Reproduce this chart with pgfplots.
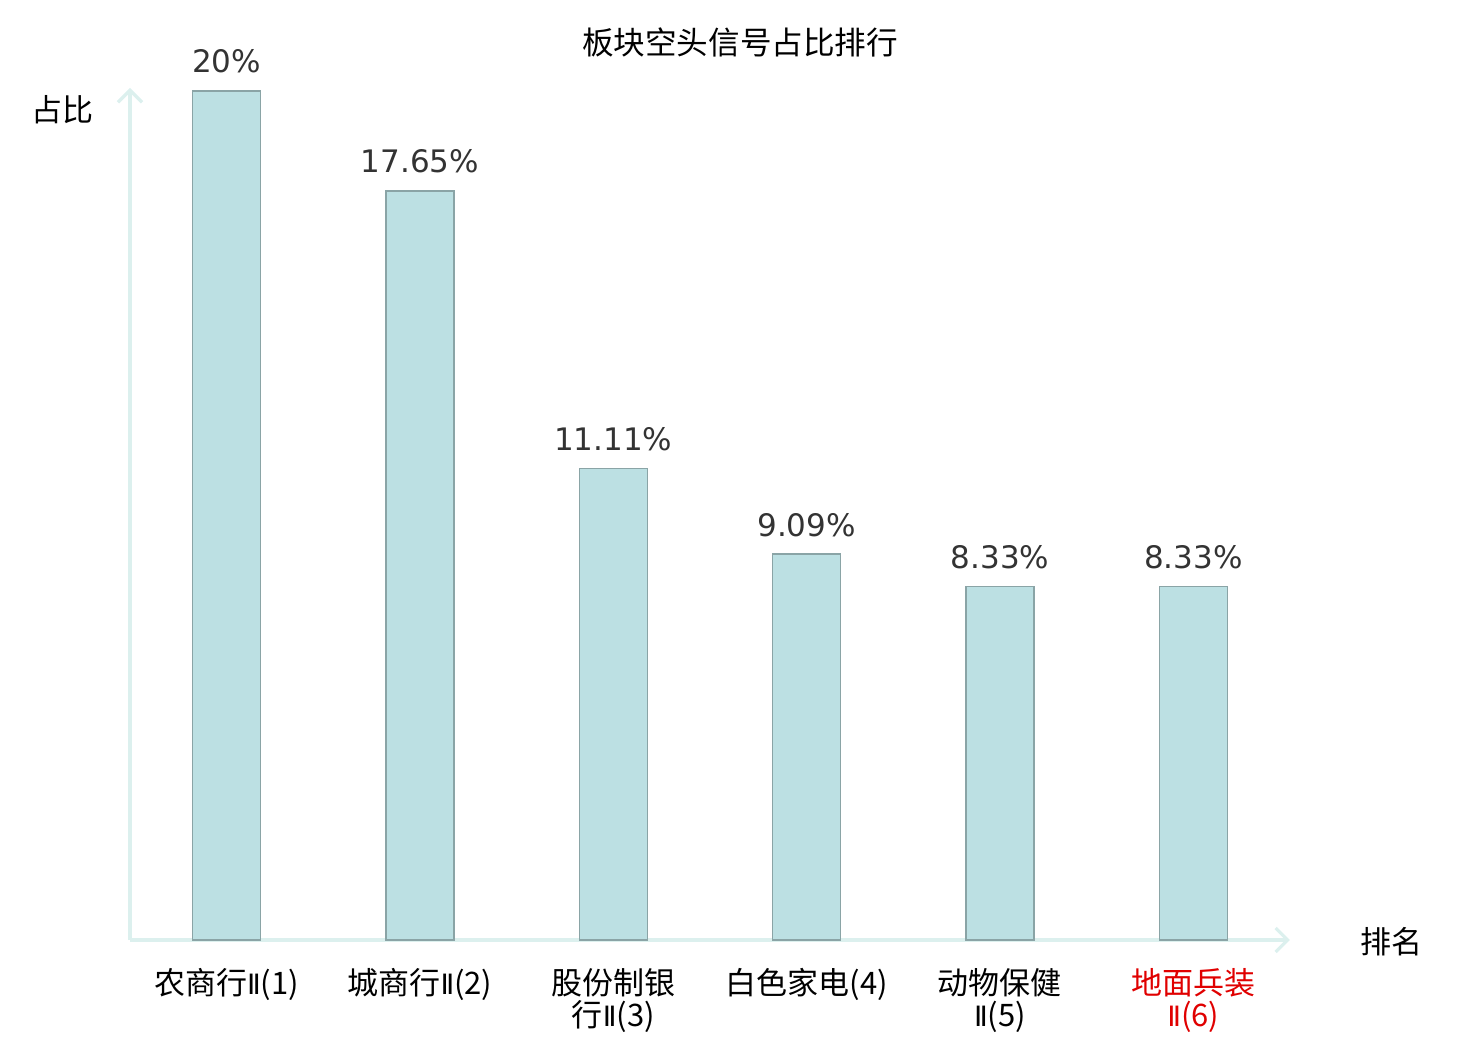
\documentclass[border=0pt]{standalone}
\usepackage{pgfplots}
\pgfplotsset{compat=1.18}
\usepackage{fontspec}
\setmainfont{DejaVu Sans}
\newfontfamily\cjk{Noto Sans CJK SC}
\newfontfamily\dv{DejaVu Sans}
\usetikzlibrary{arrows.meta}
\definecolor{barfill}{HTML}{BCE0E3}
\definecolor{barline}{HTML}{8AA4A6}
\definecolor{axiscol}{HTML}{DCF0EE}
\definecolor{labred}{HTML}{E00000}
\definecolor{valcol}{HTML}{333333}
\newcommand{\rn}{{\dv\fontsize{14}{16}\selectfont Ⅱ}}
\begin{document}
\begin{tikzpicture}
\path[use as bounding box] (-65pt,-50pt) rectangle (675pt,470pt);
\begin{axis}[
  at={(0pt,0pt)}, anchor=south west,
  scale only axis, width=580pt, height=426pt,
  xmin=-0.5, xmax=5.5, ymin=0, ymax=20.07,
  enlargelimits=false, clip=false,
  axis lines=left,
  axis line style={draw=axiscol, line width=1.6pt, -{Straight Barb[length=6pt,width=12pt,line width=1.6pt]}},
  ytick=\empty,
  xtick={0,1,2,3,4,5},
  major tick length=0pt,
  xticklabels={{农商行\rn(1)},{城商行\rn(2)},{股份制银\\行\rn(3)},{白色家电(4)},{动物保健\\\rn(5)},{\color{labred}地面兵装\\\color{labred}\rn(6)}},
  xticklabel style={font=\cjk\fontsize{15.5}{16.2}\selectfont, align=center, anchor=north, inner sep=0pt, yshift=-14pt, text=black},
  ybar, bar width=34pt,
  point meta=explicit symbolic,
  nodes near coords,
  every node near coord/.append style={font=\fontsize{15.5}{18}\selectfont, text=valcol, anchor=base, inner sep=0pt, yshift=9pt},
]
\addplot[fill=barfill, draw=barline, line width=0.8pt] coordinates {
  (0,20) [20\%]
  (1,17.65) [17.65\%]
  (2,11.11) [11.11\%]
  (3,9.09) [9.09\%]
  (4,8.33) [8.33\%]
  (5,8.33) [8.33\%]
};
\end{axis}
\node[font=\cjk\fontsize{15.8}{18}\selectfont, text=black] at (305pt,449pt) {板块空头信号占比排行};
\node[font=\cjk\fontsize{15.5}{18}\selectfont, text=black] at (-33.5pt,415pt) {占比};
\node[font=\cjk\fontsize{15.5}{18}\selectfont, text=black] at (630.5pt,-1pt) {排名};
\end{tikzpicture}
\end{document}
